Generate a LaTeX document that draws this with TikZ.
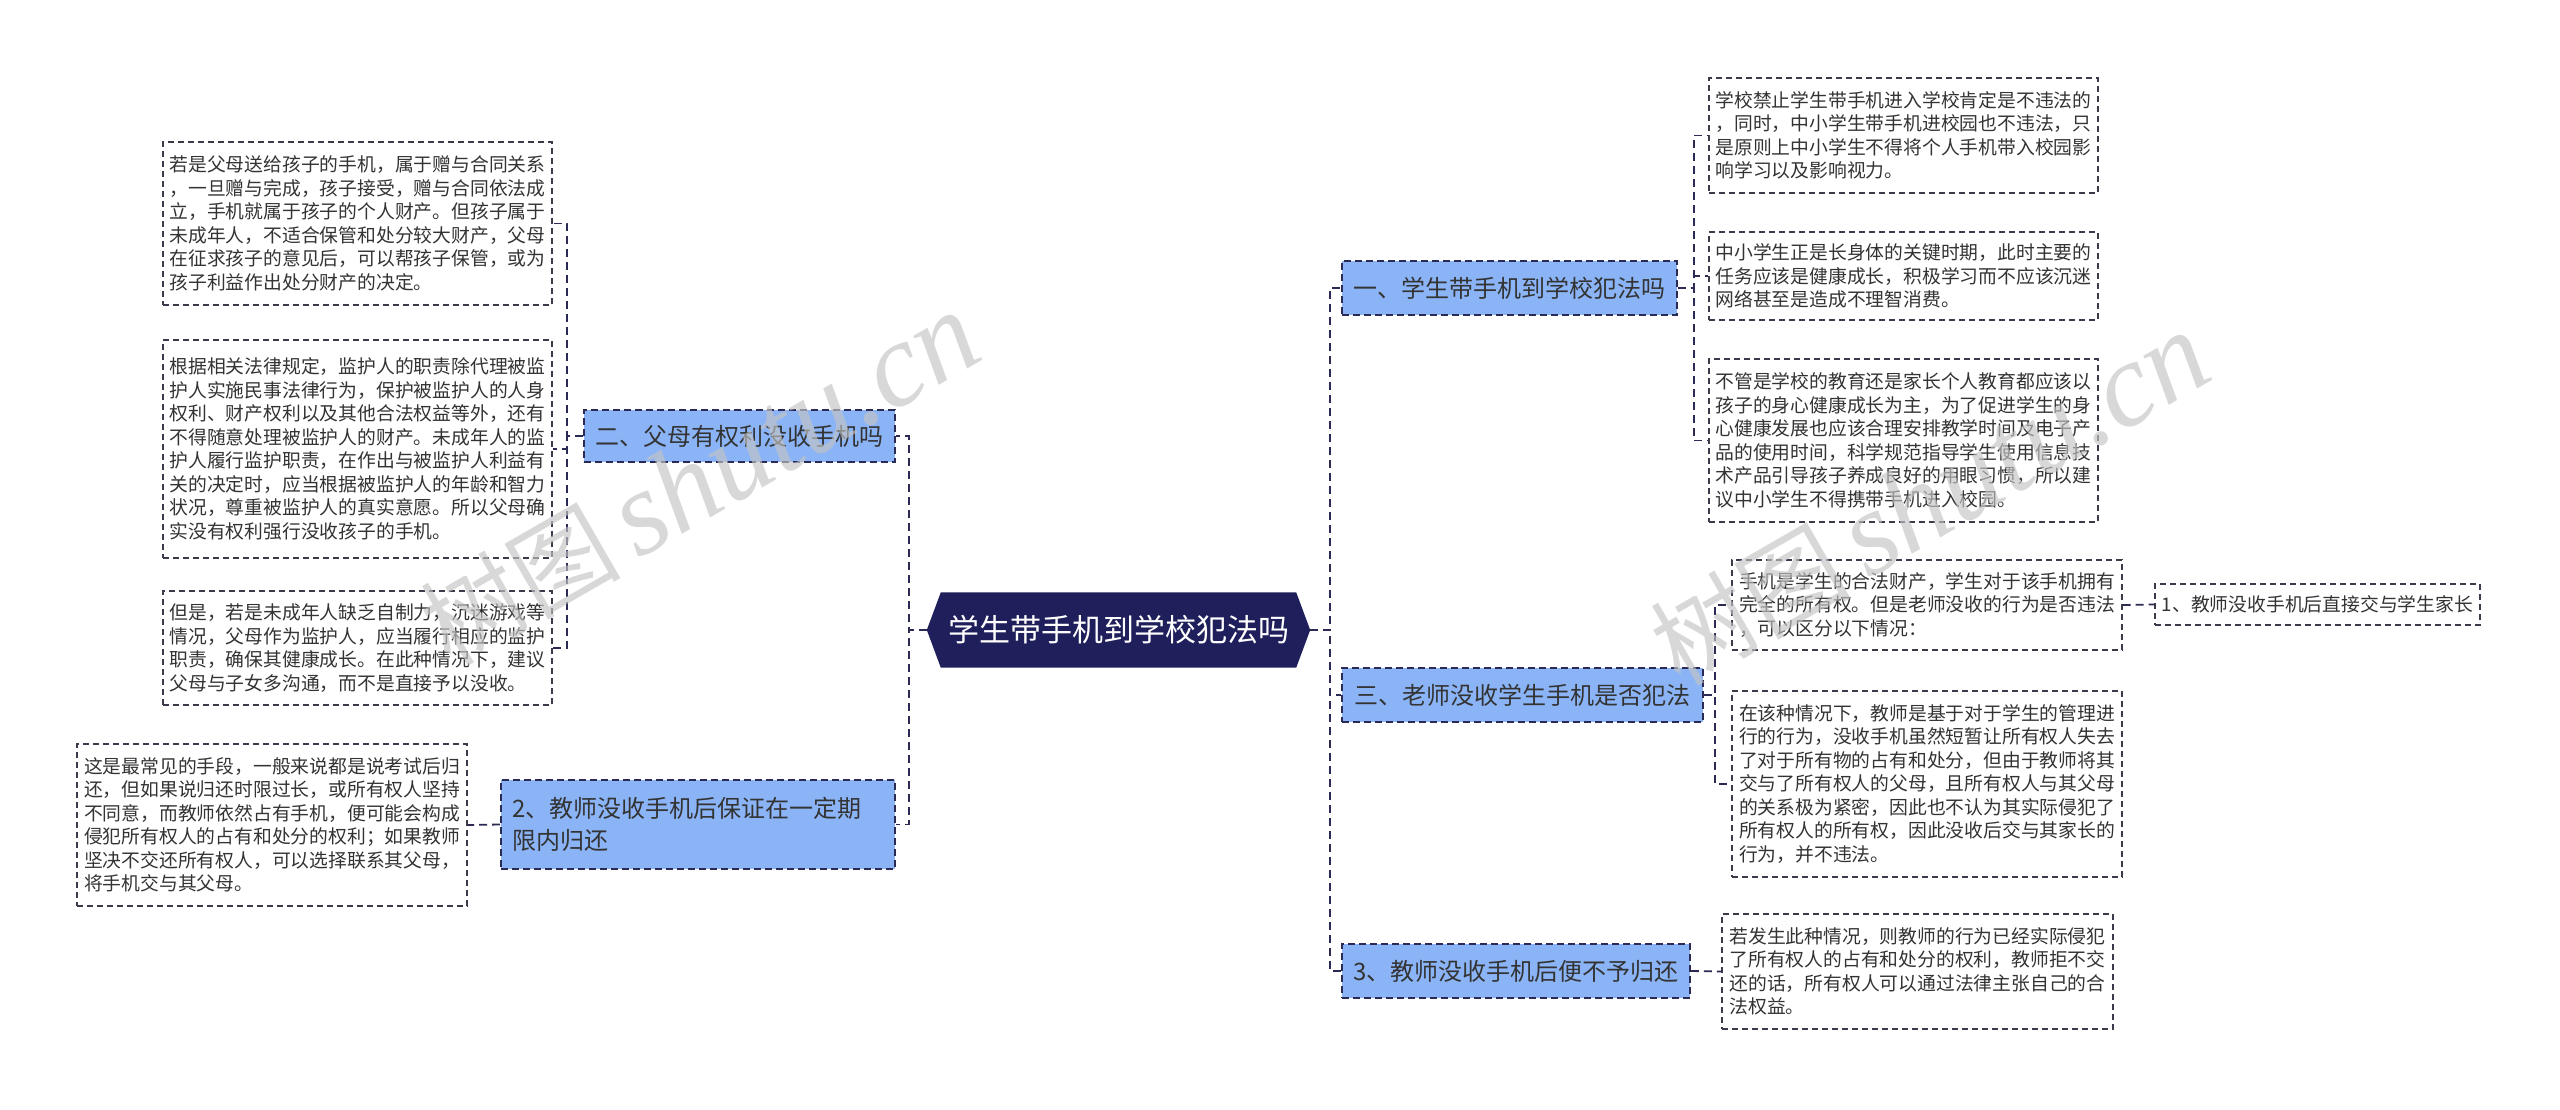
\documentclass[tikz,border=0pt]{standalone}
\usepackage{fontspec}
\setmainfont{Noto Sans CJK SC}
\newfontfamily\wmfont{Liberation Serif}
\newfontfamily\wmcjk{Noto Sans CJK SC}
\definecolor{navy}{HTML}{1F1F5C}
\definecolor{linec}{HTML}{2A2A55}
\definecolor{leafc}{HTML}{3A3A4A}
\definecolor{bluefill}{HTML}{8BB4F7}
\definecolor{textc}{HTML}{333333}
\definecolor{wmc}{HTML}{C4C4C4}
\newcommand\lfnt{\fontsize{18.8}{23.5}\selectfont}
\newcommand\bfnt{\fontsize{24}{32}\selectfont}
\newcommand\cfnt{\fontsize{31}{36}\selectfont}
\tikzset{
  x=1pt, y=-1pt,
  leaf/.style={draw=leafc, line width=1.4pt, dash pattern=on 6pt off 4pt, align=left,
    font=\lfnt, text=textc, inner sep=0pt},
  branch/.style={draw=linec, fill=bluefill, line width=1.8pt, dash pattern=on 7pt off 4pt,
    align=left, font=\bfnt, text=textc, inner sep=0pt},
  conn/.style={draw=linec, line width=1.8pt, dash pattern=on 8pt off 5pt},
  wm/.style={text=wmc, text opacity=0.65, rotate=30, inner sep=0pt}
}
\begin{document}
\begin{tikzpicture}
\useasboundingbox (0,0) rectangle (2560,1109);
\fill[white] (0,0) rectangle (2560,1109);

% centre
\node[minimum width=355, minimum height=75, inner sep=0pt, text=white, font=\cfnt] (c) at (1118.5,630) {};
\fill[navy] ([xshift=-14pt]c.west) -- (c.north west) -- (c.north east) -- ([xshift=14pt]c.east) -- (c.south east) -- (c.south west) -- cycle;
\node[text=white, font=\cfnt, inner sep=0pt] (ct) at (c.center) {学生带手机到学校犯法吗};
\coordinate (cL) at ([xshift=-14pt]c.west);
\coordinate (cR) at ([xshift=14pt]c.east);

% branches
\node[branch, minimum width=335, minimum height=54] (b1) at (1509.5,288) {一、学生带手机到学校犯法吗};
\node[branch, minimum width=361, minimum height=54] (b3) at (1522.5,695) {三、老师没收学生手机是否犯法};
\node[branch, minimum width=348, minimum height=54] (b4) at (1516,971) {3、教师没收手机后便不予归还};
\node[branch, minimum width=311, minimum height=52] (b2) at (739.5,436) {二、父母有权利没收手机吗};
\node[branch, minimum width=394, minimum height=89, text width=371, inner xsep=11.5pt] (b5) at (698,824.5) {2、教师没收手机后保证在一定期\\限内归还};

% leaves left
\node[leaf, minimum width=389, minimum height=163] (l1) at (357.5,223.5) {若是父母送给孩子的手机，属于赠与合同关系\\，一旦赠与完成，孩子接受，赠与合同依法成\\立，手机就属于孩子的个人财产。但孩子属于\\未成年人，不适合保管和处分较大财产，父母\\在征求孩子的意见后，可以帮孩子保管，或为\\孩子利益作出处分财产的决定。};
\node[leaf, minimum width=389, minimum height=218] (l2) at (357.5,449) {根据相关法律规定，监护人的职责除代理被监\\护人实施民事法律行为，保护被监护人的人身\\权利、财产权利以及其他合法权益等外，还有\\不得随意处理被监护人的财产。未成年人的监\\护人履行监护职责，在作出与被监护人利益有\\关的决定时，应当根据被监护人的年龄和智力\\状况，尊重被监护人的真实意愿。所以父母确\\实没有权利强行没收孩子的手机。};
\node[leaf, minimum width=389, minimum height=114] (l3) at (357.5,648) {但是，若是未成年人缺乏自制力，沉迷游戏等\\情况，父母作为监护人，应当履行相应的监护\\职责，确保其健康成长。在此种情况下，建议\\父母与子女多沟通，而不是直接予以没收。};
\node[leaf, minimum width=390, minimum height=162] (l4) at (272,825) {这是最常见的手段，一般来说都是说考试后归\\还，但如果说归还时限过长，或所有权人坚持\\不同意，而教师依然占有手机，便可能会构成\\侵犯所有权人的占有和处分的权利；如果教师\\坚决不交还所有权人，可以选择联系其父母，\\将手机交与其父母。};

% leaves right
\node[leaf, minimum width=389, minimum height=115] (r1) at (1903.5,135.5) {学校禁止学生带手机进入学校肯定是不违法的\\，同时，中小学生带手机进校园也不违法，只\\是原则上中小学生不得将个人手机带入校园影\\响学习以及影响视力。};
\node[leaf, minimum width=389, minimum height=88] (r2) at (1903.5,276) {中小学生正是长身体的关键时期，此时主要的\\任务应该是健康成长，积极学习而不应该沉迷\\网络甚至是造成不理智消费。};
\node[leaf, minimum width=389, minimum height=163] (r3) at (1903.5,440.5) {不管是学校的教育还是家长个人教育都应该以\\孩子的身心健康成长为主，为了促进学生的身\\心健康发展也应该合理安排教学时间及电子产\\品的使用时间，科学规范指导学生使用信息技\\术产品引导孩子养成良好的用眼习惯，所以建\\议中小学生不得携带手机进入校园。};
\node[leaf, minimum width=390, minimum height=90] (r4) at (1927,605) {手机是学生的合法财产，学生对于该手机拥有\\完全的所有权。但是老师没收的行为是否违法\\，可以区分以下情况：};
\node[leaf, minimum width=390, minimum height=186] (r5) at (1927,784) {在该种情况下，教师是基于对于学生的管理进\\行的行为，没收手机虽然短暂让所有权人失去\\了对于所有物的占有和处分，但由于教师将其\\交与了所有权人的父母，且所有权人与其父母\\的关系极为紧密，因此也不认为其实际侵犯了\\所有权人的所有权，因此没收后交与其家长的\\行为，并不违法。};
\node[leaf, minimum width=325, minimum height=41] (r6) at (2317.5,604.5) {1、教师没收手机后直接交与学生家长};
\node[leaf, minimum width=391, minimum height=115] (r7) at (1917.5,971.5) {若发生此种情况，则教师的行为已经实际侵犯\\了所有权人的占有和处分的权利，教师拒不交\\还的话，所有权人可以通过法律主张自己的合\\法权益。};

% connectors centre -> branches
\draw[conn] (cR) -- ++(20,0) |- (b1.west);
\draw[conn] (cR) -- ++(20,0) |- (b3.west);
\draw[conn] (cR) -- ++(20,0) |- (b4.west);
\draw[conn] (cL) -- ++(-18,0) |- (b2.east);
\draw[conn] (cL) -- ++(-18,0) |- (b5.east);

% branch -> leaves
\draw[conn] (b1.east) -- ++(16,0) |- (r1.west);
\draw[conn] (b1.east) -- ++(16,0) |- (r2.west);
\draw[conn] (b1.east) -- ++(16,0) |- (r3.west);
\draw[conn] (b3.east) -- ++(11,0) |- (r4.west);
\draw[conn] (b3.east) -- ++(11,0) |- (r5.west);
\draw[conn] (r4.east) -- (r6.west);
\draw[conn] (b4.east) -- (r7.west);
\draw[conn] (b2.west) -- ++(-16,0) |- (l1.east);
\draw[conn] (b2.west) -- ++(-16,0) |- (l2.east);
\draw[conn] (b2.west) -- ++(-16,0) |- (l3.east);
\draw[conn] (b5.west) -- (l4.east);

% watermarks (semi-transparent, on top as in the reference)
\node[wm] (wm1) at (700,480) {\wmcjk\fontsize{100}{100}\selectfont 树图\,\wmfont\itshape\fontsize{120}{120}\selectfont shutu.cn};
\node[wm] (wm2) at (1930,500) {\wmcjk\fontsize{100}{100}\selectfont 树图\,\wmfont\itshape\fontsize{120}{120}\selectfont shutu.cn};
\end{tikzpicture}
\end{document}
